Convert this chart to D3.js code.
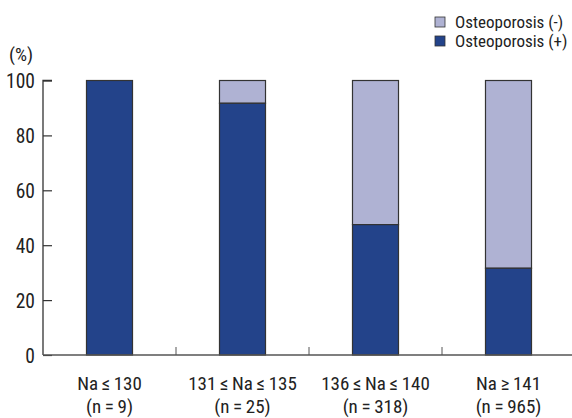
<!DOCTYPE html>
<html><head><meta charset="utf-8">
<script src="https://cdn.jsdelivr.net/npm/d3@7"></script>
<style>body{margin:0;background:#fff}svg{display:block}text{font-family:"Liberation Sans Narrow","Roboto Condensed","Liberation Sans",sans-serif;fill:#222}</style>
</head><body><svg id="c" width="572" height="418"></svg>
<script>
const categories = ["Na\u2009\u2264\u2009130", "131\u2009\u2264\u2009Na\u2009\u2264\u2009135", "136\u2009\u2264\u2009Na\u2009\u2264\u2009140", "Na\u2009\u2265\u2009141"];
const nLabels = ["(n\u2009=\u20099)", "(n\u2009=\u200925)", "(n\u2009=\u2009318)", "(n\u2009=\u2009965)"];
const osteoPos = [100, 91.7, 47.5, 31.6];
const osteoNeg = [0, 8.3, 52.5, 68.4];
const seriesNames = ["Osteoporosis (-)", "Osteoporosis (+)"];
const yTicks = [0, 20, 40, 60, 80, 100];

const svg = d3.select("#c");
const x0 = 43, x1 = 575, yB = 355, yT = 80.5;
const x = d3.scaleBand().domain(categories).range([x0, x1]).paddingInner(0.654).paddingOuter(0.327);
const y = d3.scaleLinear().domain([0, 100]).range([yB, yT]);
const colPos = "#23438a", colNeg = "#afb2d3", stroke = "#333";

const data = categories.map((c, i) => ({c, pos: osteoPos[i], neg: osteoNeg[i]}));
const g = svg.append("g");
g.selectAll("rect.neg").data(data.filter(d => d.neg > 0)).join("rect")
  .attr("x", d => x(d.c)).attr("width", x.bandwidth())
  .attr("y", d => y(d.pos + d.neg)).attr("height", d => y(d.pos) - y(d.pos + d.neg))
  .attr("fill", colNeg).attr("stroke", stroke).attr("stroke-width", 1.2);
g.selectAll("rect.pos").data(data).join("rect")
  .attr("x", d => x(d.c)).attr("width", x.bandwidth())
  .attr("y", d => y(d.pos)).attr("height", d => y(0) - y(d.pos))
  .attr("fill", colPos).attr("stroke", stroke).attr("stroke-width", 1.2);

const ya = svg.append("g").attr("transform", `translate(${x0},0)`)
  .call(d3.axisRight(y).tickValues(yTicks).tickSize(9).tickFormat(d3.format("d")));
ya.select(".domain").attr("stroke", stroke).attr("stroke-width", 1.3).attr("d", `M9,${yT}H0V${yB}`);
ya.selectAll(".tick line").attr("stroke", stroke).attr("stroke-width", 1.2);
ya.selectAll(".tick text").attr("x", -8).attr("text-anchor", "end").attr("dy", "0.36em")
  .style("font-size", "19.5px");
svg.append("text").attr("x", 9).attr("y", 61).style("font-size", "19px").text("(%)");

svg.append("line").attr("x1", x0).attr("x2", 572).attr("y1", yB).attr("y2", yB)
  .attr("stroke", "#555").attr("stroke-width", 1.5);
const bounds = categories.slice(1).map(c => x(c) - x.step() * x.paddingInner() / 2);
svg.selectAll("line.xt").data(bounds).join("line")
  .attr("x1", d => d).attr("x2", d => d).attr("y1", yB).attr("y2", yB - 8)
  .attr("stroke", "#555").attr("stroke-width", 1);
const xl = svg.selectAll("g.xl").data(data).join("g")
  .attr("transform", d => `translate(${x(d.c) + x.bandwidth() / 2},0)`);
xl.append("text").attr("y", 390).attr("text-anchor", "middle").style("font-size", "19px").text(d => d.c);
xl.append("text").attr("y", 413).attr("text-anchor", "middle").style("font-size", "19px").text((d, i) => nLabels[i]);

const lg = svg.selectAll("g.lg").data(seriesNames).join("g")
  .attr("transform", (d, i) => `translate(435,${17 + i * 19})`);
lg.append("rect").attr("width", 10).attr("height", 10)
  .attr("fill", (d, i) => i === 0 ? colNeg : colPos).attr("stroke", stroke).attr("stroke-width", 0.8);
lg.append("text").attr("x", 20).attr("y", 11).style("font-size", "17px").text(d => d);
</script></body></html>
